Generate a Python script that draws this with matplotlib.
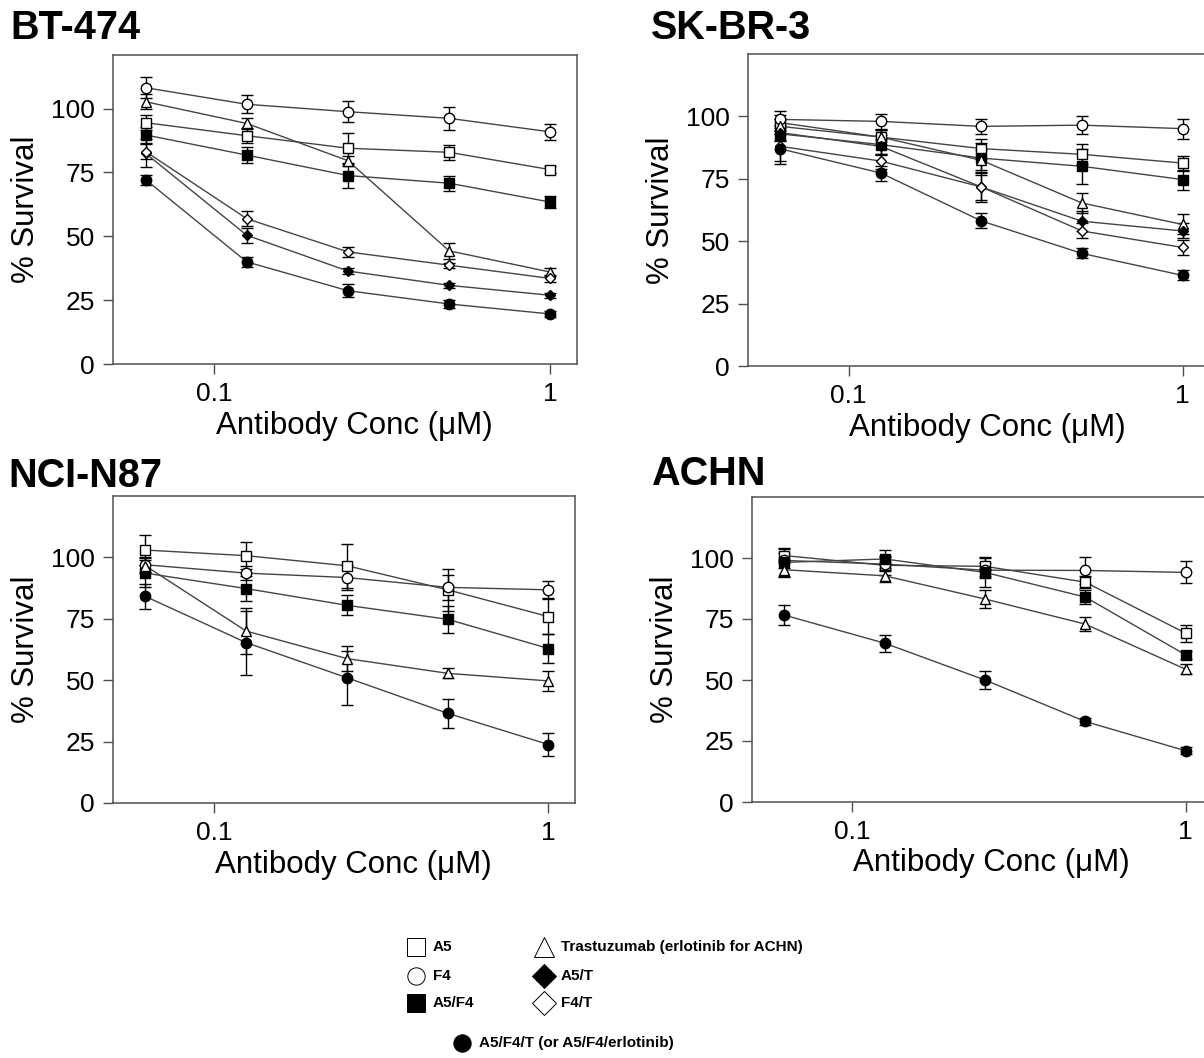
import matplotlib
matplotlib.use('Agg')
import matplotlib.pyplot as plt
from matplotlib.ticker import FixedLocator, NullLocator

plt.rcParams['font.family'] = ['Liberation Sans', 'DejaVu Sans']

CONC = [0.0625, 0.125, 0.25, 0.5, 1.0]
YTICKS = [0, 25, 50, 75, 100]

# BT-474
BT474_A5 = [94.5, 89.4, 84.5, 82.9, 76.1]
BT474_A5_ERR = [3, 3, 6, 3, 1.5]
BT474_F4 = [108.2, 101.7, 98.8, 96.2, 90.9]
BT474_F4_ERR = [4, 3.5, 4, 4.5, 3]
BT474_A5F4 = [89.7, 81.8, 73.8, 70.8, 63.4]
BT474_A5F4_ERR = [3, 3, 5, 3, 2.5]
BT474_T = [102.7, 94.2, 79.6, 44.3, 36.0]
BT474_T_ERR = [3, 2, 2, 3, 1.5]
BT474_A5T = [82.5, 50.4, 36.4, 30.8, 26.9]
BT474_A5T_ERR = [5.5, 3, 1, 1, 1]
BT474_F4T = [83.2, 56.9, 43.9, 38.7, 33.5]
BT474_F4T_ERR = [3, 3, 2, 1, 1.5]
BT474_A5F4T = [72.2, 40.0, 28.7, 23.5, 19.6]
BT474_A5F4T_ERR = [2, 2, 2.5, 1.5, 1]

# SK-BR-3
SKBR3_A5 = [97.5, 91.7, 87.1, 84.8, 81.3]
SKBR3_A5_ERR = [3, 3, 4, 4, 3]
SKBR3_F4 = [98.8, 98.0, 96.0, 96.5, 95.1]
SKBR3_F4_ERR = [3.5, 3, 3, 3.5, 4]
SKBR3_A5F4 = [93.0, 88.7, 83.3, 80.0, 74.7]
SKBR3_A5F4_ERR = [3, 4, 6, 7, 4]
SKBR3_T = [96.0, 91.7, 82.4, 65.3, 56.7]
SKBR3_T_ERR = [3, 3, 4, 4, 4]
SKBR3_A5T = [93.5, 88.0, 71.7, 58.0, 54.1]
SKBR3_A5T_ERR = [3, 3, 6, 4, 3]
SKBR3_F4T = [88.0, 82.1, 71.7, 54.1, 47.5]
SKBR3_F4T_ERR = [6, 3, 5, 3, 3]
SKBR3_A5F4T = [87.0, 77.3, 58.1, 45.1, 36.3]
SKBR3_A5F4T_ERR = [6, 3, 3, 2, 2]

# NCI-N87
N87_A5 = [103.0, 100.7, 96.6, 86.8, 75.9]
N87_A5_ERR = [6, 5.5, 9, 8.5, 7]
N87_F4 = [97.0, 93.6, 91.8, 87.8, 86.8]
N87_F4_ERR = [3, 3, 5, 5, 3.5]
N87_A5F4 = [93.6, 87.3, 80.5, 74.8, 62.9]
N87_A5F4_ERR = [5.5, 5, 4, 5.5, 6]
N87_T = [96.6, 70.0, 58.8, 52.8, 49.7]
N87_T_ERR = [3, 9.5, 5, 2, 4]
N87_A5F4T = [84.1, 65.3, 51.0, 36.5, 23.8]
N87_A5F4T_ERR = [5, 13, 11, 6, 4.5]

# ACHN (erlotinib in place of trastuzumab)
ACHN_A5 = [101.0, 97.0, 96.6, 90.1, 69.2]
ACHN_A5_ERR = [3, 4, 4, 2.5, 3.5]
ACHN_F4 = [99.0, 97.5, 95.0, 94.9, 94.1]
ACHN_F4_ERR = [3, 3, 3, 5.5, 4.5]
ACHN_A5F4 = [98.2, 99.6, 94.1, 84.0, 60.3]
ACHN_A5F4_ERR = [5.5, 3.5, 6, 3, 1.5]
ACHN_E = [95.2, 92.7, 83.2, 72.9, 54.4]
ACHN_E_ERR = [3, 2.5, 3.5, 3, 2]
ACHN_A5F4E = [76.6, 65.1, 50.0, 33.0, 21.0]
ACHN_A5F4E_ERR = [4, 3.5, 3.5, 1.5, 1.5]

LEGEND_LABELS = ['A5', 'F4', 'A5/F4', 'Trastuzumab (erlotinib for ACHN)',
                 'A5/T', 'F4/T', 'A5/F4/T (or A5/F4/erlotinib)']

# marker style per treatment: (marker, size, face)
STYLE = {
    'A5': ('s', 6.5, 'white'),
    'F4': ('o', 7.5, 'white'),
    'A5/F4': ('s', 6.5, 'black'),
    'T': ('^', 7.5, 'white'),
    'A5/T': ('D', 5, 'black'),
    'F4/T': ('D', 5, 'white'),
    'A5/F4/T': ('o', 7.5, 'black'),
}

W, H = 1204, 1058
LINE_COL = '#444444'
SPINE_COL = '#505050'


def px_axes(fig, left, top, width, height):
    return fig.add_axes([left / W, 1 - (top + height) / H, width / W, height / H])


def plot_panel(ax, series, ymax):
    for key, vals, errs in series:
        marker, ms, face = STYLE[key]
        ax.errorbar(CONC, vals, yerr=errs, color='black', ecolor='black',
                    elinewidth=1.0, capsize=4.5, capthick=1.0, fmt='none', zorder=2)
        ax.plot(CONC, vals, color=LINE_COL, lw=1.0, zorder=3)
        ax.plot(CONC, vals, linestyle='none', marker=marker, ms=ms,
                mfc=face, mec='black', mew=1.0, zorder=4)
    ax.set_xscale('log')
    ax.set_xlim(0.05, 1.2)
    ax.set_ylim(0, ymax)
    ax.xaxis.set_major_locator(FixedLocator([0.1, 1]))
    ax.xaxis.set_minor_locator(NullLocator())
    ax.set_xticklabels(['0.1', '1'])
    ax.set_yticks(YTICKS)
    ax.tick_params(axis='both', direction='out', length=7, width=1.0,
                   color=SPINE_COL, labelsize=19, pad=6)
    for sp in ax.spines.values():
        sp.set_color(SPINE_COL)
        sp.set_linewidth(1.1)
    ax.set_xlabel('Antibody Conc (\u03bcM)', fontsize=22.5)
    ax.xaxis.set_label_coords(0.52, -0.152)
    ax.set_ylabel('% Survival', fontsize=22.5, labelpad=7)


fig = plt.figure(figsize=(W / 100, H / 100), dpi=100)

ax1 = px_axes(fig, 113, 55, 464, 309)
plot_panel(ax1, [
    ('A5', BT474_A5, BT474_A5_ERR),
    ('F4', BT474_F4, BT474_F4_ERR),
    ('A5/F4', BT474_A5F4, BT474_A5F4_ERR),
    ('T', BT474_T, BT474_T_ERR),
    ('A5/T', BT474_A5T, BT474_A5T_ERR),
    ('F4/T', BT474_F4T, BT474_F4T_ERR),
    ('A5/F4/T', BT474_A5F4T, BT474_A5F4T_ERR),
], 121)

ax2 = px_axes(fig, 748, 54, 461, 312)
plot_panel(ax2, [
    ('A5', SKBR3_A5, SKBR3_A5_ERR),
    ('F4', SKBR3_F4, SKBR3_F4_ERR),
    ('A5/F4', SKBR3_A5F4, SKBR3_A5F4_ERR),
    ('T', SKBR3_T, SKBR3_T_ERR),
    ('A5/T', SKBR3_A5T, SKBR3_A5T_ERR),
    ('F4/T', SKBR3_F4T, SKBR3_F4T_ERR),
    ('A5/F4/T', SKBR3_A5F4T, SKBR3_A5F4T_ERR),
], 125)

ax3 = px_axes(fig, 113, 496, 462, 307)
plot_panel(ax3, [
    ('A5', N87_A5, N87_A5_ERR),
    ('F4', N87_F4, N87_F4_ERR),
    ('A5/F4', N87_A5F4, N87_A5F4_ERR),
    ('T', N87_T, N87_T_ERR),
    ('A5/F4/T', N87_A5F4T, N87_A5F4T_ERR),
], 125)

ax4 = px_axes(fig, 752, 497, 460, 305)
plot_panel(ax4, [
    ('A5', ACHN_A5, ACHN_A5_ERR),
    ('F4', ACHN_F4, ACHN_F4_ERR),
    ('A5/F4', ACHN_A5F4, ACHN_A5F4_ERR),
    ('T', ACHN_E, ACHN_E_ERR),
    ('A5/F4/T', ACHN_A5F4E, ACHN_A5F4E_ERR),
], 125)

# panel titles
for name, x, y in [('BT-474', 10, 39), ('SK-BR-3', 651, 39),
                   ('NCI-N87', 8, 487), ('ACHN', 651, 485)]:
    fig.text(x / W, 1 - y / H, name, fontsize=28.5, fontweight='bold',
             ha='left', va='baseline')

# legend drawn by hand (irregular layout)
leg = fig.add_axes([0, 0, 1, 1])
leg.set_xlim(0, W)
leg.set_ylim(H, 0)
leg.axis('off')
leg_keys = ['A5', 'F4', 'A5/F4', 'T', 'A5/T', 'F4/T', 'A5/F4/T']
leg_pos = [(416, 947), (416, 976), (416, 1003),
           (544, 947), (544, 976), (544, 1003), (462, 1043)]
leg_size = {'s': 12.5, 'o': 12.5, '^': 15, 'D': 12}
for key, label, (x, y) in zip(leg_keys, LEGEND_LABELS, leg_pos):
    marker, _, face = STYLE[key]
    leg.plot([x], [y], marker=marker, ms=leg_size[marker], mfc=face,
             mec='black', mew=0.7, linestyle='none')
    leg.text(x + 17, y, label, fontsize=11, fontweight='bold',
             ha='left', va='center')

fig.savefig('out.png', dpi=100)
